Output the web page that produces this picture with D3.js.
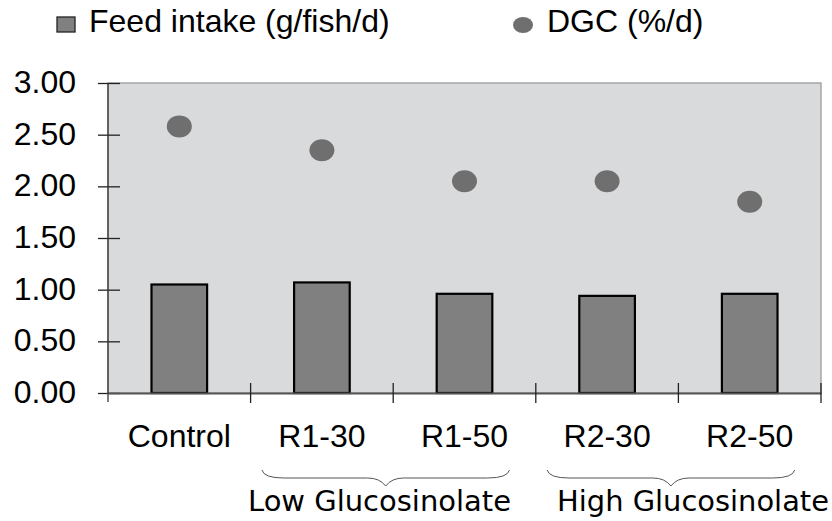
<!DOCTYPE html>
<html>
<head>
<meta charset="utf-8">
<script src="https://cdn.jsdelivr.net/npm/d3@7/dist/d3.min.js"></script>
<style>
  html, body { margin: 0; padding: 0; background: #fff; }
  svg { display: block; }
  .sans { font-family: "Liberation Sans", Arial, sans-serif; fill: #000; }
  .comic { font-family: "Comic Sans MS", "DejaVu Sans", sans-serif; fill: #000; }
</style>
</head>
<body>
<svg id="chart" width="832" height="521"></svg>
<script>
// Treatments and measured values
const categories = ["Control", "R1-30", "R1-50", "R2-30", "R2-50"];
const feedIntake = [1.05, 1.07, 0.96, 0.94, 0.96];   // g/fish/d
const dgc = [2.58, 2.35, 2.05, 2.05, 1.85];          // %/d
const yTicks = [0, 0.5, 1.0, 1.5, 2.0, 2.5, 3.0];
const groups = [
  { label: "Low Glucosinolate", from: "R1-30", to: "R1-50" },
  { label: "High Glucosinolate", from: "R2-30", to: "R2-50" }
];
const seriesNames = ["Feed intake (g/fish/d)", "DGC (%/d)"];

const svg = d3.select("#chart");
const plot = { left: 108, right: 821, top: 83, bottom: 393 };

const x = d3.scaleBand().domain(categories).range([plot.left, plot.right]).padding(0);
const y = d3.scaleLinear().domain([0, 3]).range([plot.bottom, plot.top]);

// plot area background
svg.append("rect")
  .attr("x", plot.left).attr("y", plot.top)
  .attr("width", plot.right - plot.left).attr("height", plot.bottom - plot.top)
  .attr("fill", "#d9dadc")
  .attr("stroke", "#a6a6a6").attr("stroke-width", 1.5);

// bars
const barW = x.bandwidth() * 0.39;
svg.append("g").selectAll("rect")
  .data(categories)
  .join("rect")
  .attr("x", (d) => x(d) + x.bandwidth() / 2 - barW / 2)
  .attr("y", (d, i) => y(feedIntake[i]))
  .attr("width", barW)
  .attr("height", (d, i) => y(0) - y(feedIntake[i]))
  .attr("fill", "#808080")
  .attr("stroke", "#000").attr("stroke-width", 2.2);

// DGC markers
svg.append("g").selectAll("ellipse")
  .data(categories)
  .join("ellipse")
  .attr("cx", (d) => x(d) + x.bandwidth() / 2)
  .attr("cy", (d, i) => y(dgc[i]))
  .attr("rx", 12.5).attr("ry", 11)
  .attr("fill", "#6f6f6f");

// y axis
const yAxis = svg.append("g")
  .attr("transform", `translate(${plot.left},0)`)
  .call(d3.axisLeft(y).tickValues(yTicks).tickSize(10).tickPadding(22).tickFormat(d3.format(".2f")));
yAxis.select(".domain").remove();
yAxis.selectAll(".tick line").attr("x1", 12).attr("stroke", "#222").attr("stroke-width", 1.3);
yAxis.selectAll(".tick text").attr("class", "sans").style("font-size", "32px").attr("dy", "0.3em");
yAxis.append("line")
  .attr("x1", 0).attr("x2", 0).attr("y1", plot.top).attr("y2", plot.bottom + 9)
  .attr("stroke", "#333").attr("stroke-width", 1.3);

// x axis
const xAxis = svg.append("g")
  .attr("transform", `translate(0,${plot.bottom})`)
  .call(d3.axisBottom(x).tickSize(0).tickPadding(31));
xAxis.select(".domain").attr("stroke", "#555").attr("stroke-width", 2);
xAxis.selectAll(".tick text").attr("class", "sans").style("font-size", "32px").attr("dy", "0.71em");
// boundary ticks between categories
const bounds = categories.map((c) => x(c)).concat([x(categories[categories.length - 1]) + x.bandwidth()]);
xAxis.append("g").selectAll("line")
  .data(bounds.slice(1))
  .join("line")
  .attr("x1", (d) => d).attr("x2", (d) => d)
  .attr("y1", -10).attr("y2", 10)
  .attr("stroke", "#222").attr("stroke-width", 1.3);

// group braces
const braceTop = 470, braceMid = 478, braceTip = 486;
groups.forEach((g) => {
  const x0 = x(g.from) + x.bandwidth() / 2 - 60;
  const x1 = x(g.to) + x.bandwidth() / 2 + 45;
  const xm = (x0 + x1) / 2;
  const p = d3.path();
  p.moveTo(x0, braceTop);
  p.quadraticCurveTo(x0 + 2, braceMid, x0 + 22, braceMid);
  p.lineTo(xm - 18, braceMid);
  p.quadraticCurveTo(xm - 6, braceMid, xm, braceTip);
  p.quadraticCurveTo(xm + 6, braceMid, xm + 18, braceMid);
  p.lineTo(x1 - 22, braceMid);
  p.quadraticCurveTo(x1 - 2, braceMid, x1, braceTop);
  svg.append("path").attr("d", p.toString())
    .attr("fill", "none").attr("stroke", "#555").attr("stroke-width", 1);
});
svg.append("text").attr("class", "comic")
  .attr("x", 248).attr("y", 511)
  .attr("textLength", 263).attr("lengthAdjust", "spacingAndGlyphs")
  .style("font-size", "28px").text(groups[0].label);
svg.append("text").attr("class", "comic")
  .attr("x", 557).attr("y", 511)
  .attr("textLength", 272).attr("lengthAdjust", "spacingAndGlyphs")
  .style("font-size", "28px").text(groups[1].label);

// legend
const legend = svg.append("g");
legend.append("rect").attr("x", 57).attr("y", 17).attr("width", 18).attr("height", 15)
  .attr("fill", "#808080").attr("stroke", "#222").attr("stroke-width", 1.3);
legend.append("text").attr("class", "sans").attr("x", 89).attr("y", 32)
  .style("font-size", "32px").text(seriesNames[0]);
legend.append("ellipse").attr("cx", 523).attr("cy", 25).attr("rx", 10).attr("ry", 8)
  .attr("fill", "#6f6f6f");
legend.append("text").attr("class", "sans").attr("x", 547).attr("y", 32)
  .style("font-size", "32px").text(seriesNames[1]);
</script>
</body>
</html>
